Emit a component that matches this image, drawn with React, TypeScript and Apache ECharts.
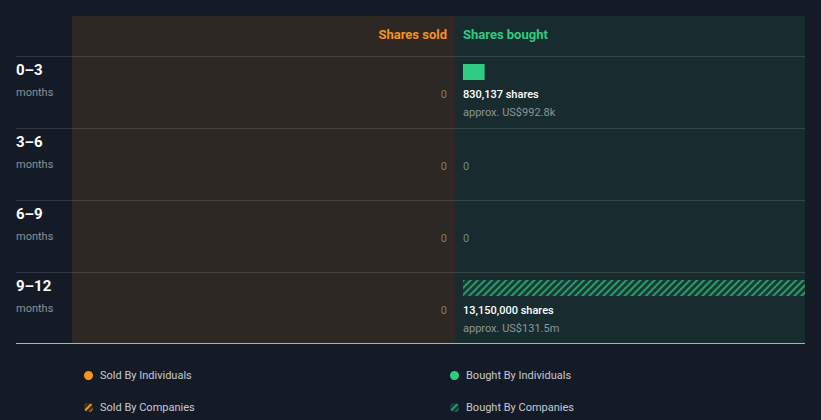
import React, { useEffect, useRef } from "react";
import * as echarts from "echarts";

const categories = ["0–3", "3–6", "6–9", "9–12"];
const soldIndividuals = [0, 0, 0, 0];
const soldCompanies = [0, 0, 0, 0];
const boughtIndividuals = [830137, 0, 0, 0];
const boughtCompanies = [0, 0, 0, 13150000];
const boughtValueUSD = [992800, 0, 0, 131500000];
const soldValueUSD = [0, 0, 0, 0];

const BG = "#151b26";
const ORANGE = "#f7931e";
const GREEN = "#2ecc80";
const FONT = "Roboto, 'Noto Sans', sans-serif";

function fmtUSD(v: number): string {
  if (v >= 1e6) return "US$" + (v / 1e6).toFixed(1) + "m";
  if (v >= 1e3) return "US$" + (v / 1e3).toFixed(1) + "k";
  return "US$" + v;
}

function labelText(total: number, usd: number): string {
  if (total === 0) return "{z|0}";
  return `{v|${total.toLocaleString("en-US")} shares}\n{u|approx. ${fmtUSD(usd)}}`;
}

export default function App() {
  const ref = useRef<HTMLDivElement>(null);

  useEffect(() => {
    document.body.style.margin = "0";
    document.body.style.background = BG;
    const chart = echarts.init(ref.current!, undefined, { renderer: "svg" });
    const maxVal = Math.max(
      ...boughtIndividuals.map((v, i) => v + boughtCompanies[i]),
      ...soldIndividuals.map((v, i) => v + soldCompanies[i])
    );

    const hatch = (color: string) => ({
      symbol: "rect",
      symbolSize: 1,
      dashArrayX: [1, 0],
      dashArrayY: [2, 3],
      rotation: -Math.PI / 4,
      color,
    });

    const rowLines = [56.5, 128.5, 200.5, 272.5].map((y) => ({
      type: "line",
      shape: { x1: 16, y1: y, x2: 805, y2: y },
      style: { stroke: "rgba(255,255,255,0.12)", lineWidth: 1 },
      z: 5,
    }));

    const legendCommon = {
      orient: "vertical",
      top: 365,
      itemWidth: 9,
      itemHeight: 9,
      itemGap: 21,
      icon: "circle",
      textStyle: { color: "#c5cad0", fontSize: 11, fontFamily: FONT, padding: [0, 0, 0, 2] },
      selectedMode: false,
    };

    const option: any = {
      animation: false,
      backgroundColor: BG,
      textStyle: { fontFamily: FONT },
      graphic: [
        { type: "rect", shape: { x: 72, y: 16, width: 383, height: 327 }, style: { fill: "#2d2823" }, z: -10 },
        { type: "rect", shape: { x: 455, y: 16, width: 350, height: 327 }, style: { fill: "#182c2f" }, z: -10 },
        ...rowLines,
        {
          type: "line",
          shape: { x1: 16, y1: 343.5, x2: 805, y2: 343.5 },
          style: { stroke: "#aab2b8", lineWidth: 1 },
          z: 5,
        },
        {
          type: "text",
          x: 447,
          y: 34,
          style: { text: "Shares sold", fill: ORANGE, font: `bold 13px ${FONT}`, align: "right", verticalAlign: "middle" },
          z: 5,
        },
        {
          type: "text",
          x: 463,
          y: 34,
          style: { text: "Shares bought", fill: GREEN, font: `bold 13px ${FONT}`, align: "left", verticalAlign: "middle" },
          z: 5,
        },
      ],
      legend: [
        { ...legendCommon, data: ["Sold By Individuals", "Sold By Companies"], left: 79 },
        { ...legendCommon, data: ["Bought By Individuals", "Bought By Companies"], left: 445 },
      ],
      grid: [
        { left: 72, right: 821 - 447, top: 56, height: 288 },
        { left: 463, right: 16, top: 36, height: 288 },
      ],
      xAxis: [
        { type: "value", gridIndex: 0, min: 0, max: maxVal, inverse: true, show: false },
        { type: "value", gridIndex: 1, min: 0, max: maxVal, show: false },
      ],
      yAxis: [
        {
          type: "category",
          gridIndex: 0,
          data: categories,
          inverse: true,
          axisLine: { show: false },
          axisTick: { show: false },
          splitLine: { show: false },
          axisLabel: {
            align: "left",
            margin: 56,
            verticalAlign: "middle",
            padding: [0, 0, 22, 0],
            formatter: (v: string) => `{a|${v}}\n{b|months}`,
            rich: {
              a: { fontSize: 15, fontWeight: "bold", color: "#ffffff", lineHeight: 22, fontFamily: FONT },
              b: { fontSize: 11, color: "#8b9197", lineHeight: 22, fontFamily: FONT },
            },
          },
        },
        {
          type: "category",
          gridIndex: 1,
          data: categories,
          inverse: true,
          show: false,
        },
      ],
      series: [
        {
          name: "Sold By Individuals",
          type: "bar",
          xAxisIndex: 0,
          yAxisIndex: 0,
          stack: "sold",
          barWidth: 16,
          data: soldIndividuals,
          itemStyle: { color: ORANGE },
          label: {
            show: true,
            position: [0, 10],
            align: "right",
            verticalAlign: "middle",
            formatter: (p: any) => {
              const i = p.dataIndex;
              const t = soldIndividuals[i] + soldCompanies[i];
              return t === 0 ? "{z|0}" : labelText(t, soldValueUSD[i]);
            },
            rich: {
              z: { fontSize: 11, color: "#7e7a75", fontFamily: FONT },
            },
          },
        },
        {
          name: "Sold By Companies",
          type: "bar",
          xAxisIndex: 0,
          yAxisIndex: 0,
          stack: "sold",
          barWidth: 16,
          data: soldCompanies,
          itemStyle: { color: "#3a2c1c", decal: hatch(ORANGE) },
        },
        {
          name: "Bought By Individuals",
          type: "bar",
          xAxisIndex: 1,
          yAxisIndex: 1,
          stack: "bought",
          barWidth: 16,
          data: boughtIndividuals,
          itemStyle: { color: GREEN },
          label: {
            show: true,
            position: [0, 21],
            align: "left",
            verticalAlign: "top",
            formatter: (p: any) => {
              const i = p.dataIndex;
              return labelText(boughtIndividuals[i] + boughtCompanies[i], boughtValueUSD[i]);
            },
            rich: {
              v: { fontSize: 11, color: "#ffffff", fontWeight: 500, lineHeight: 18, fontFamily: FONT },
              u: { fontSize: 11, color: "#8a9698", lineHeight: 18, fontFamily: FONT },
              z: { fontSize: 11, color: "#6f8886", lineHeight: 18, fontFamily: FONT },
            },
          },
        },
        {
          name: "Bought By Companies",
          type: "bar",
          xAxisIndex: 1,
          yAxisIndex: 1,
          stack: "bought",
          barWidth: 16,
          data: boughtCompanies,
          itemStyle: { color: "#193a33", decal: hatch("#2a9a6c") },
        },
      ],
    };
    chart.setOption(option);
    return () => chart.dispose();
  }, []);

  return (
    <div
      ref={ref}
      style={{ position: "absolute", left: 0, top: 0, width: 821, height: 420, background: BG }}
    />
  );
}
